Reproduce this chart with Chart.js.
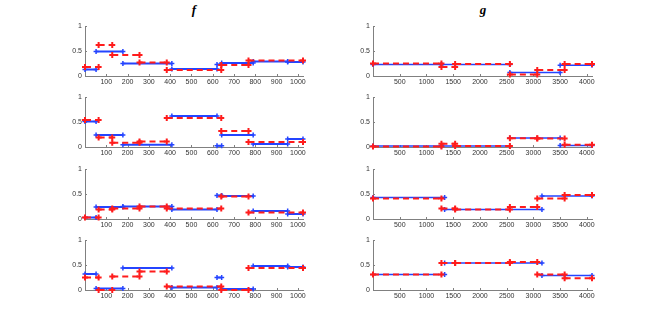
<!DOCTYPE html>
<html>
<head>
<meta charset="utf-8">
<script src="https://cdn.jsdelivr.net/npm/chart.js@4.4.0/dist/chart.umd.min.js"></script>
<style>
    body { margin: 0; width: 654px; height: 327px; background: #fff; position: relative; overflow: hidden; }
    canvas { position: absolute; }
    .ttl { position: absolute; top: 2px; width: 40px; text-align: center; font: italic bold 13px "Liberation Serif", serif; color: #000; }
</style>
</head>
<body>
<div class="ttl" style="left:174px">f</div>
<div class="ttl" style="left:463px">g</div>
<script>
// Tick labels
const fTicks = [100, 200, 300, 400, 500, 600, 700, 800, 900, 1000];
const gTicks = [500, 1000, 1500, 2000, 2500, 3000, 3500, 4000];
const yTicks = [0, 0.5, 1];

// Segment breakpoints (sample index)
const fBlueBreaks = [0, 52, 178, 408, 620, 642, 790, 952, 1024];
const fRedBreaks = [0, 64, 128, 256, 384, 640, 768, 1024];
const gBlueBreaksTop = [0, 1280, 2560, 3500, 4096];
const gBlueBreaksBottom = [0, 1340, 3160, 4096];
const gRedBreaks = [0, 1280, 1536, 2560, 3072, 3584, 4096];

// Segment levels, one array per panel
const fBlue1 = [0.13, 0.49, 0.25, 0.14, 0.23, 0.26, 0.29, 0.28];
const fRed1 = [0.18, 0.62, 0.42, 0.27, 0.12, 0.22, 0.31];
const fBlue2 = [0.51, 0.24, 0.045, 0.62, 0.025, 0.24, 0.06, 0.16];
const fRed2 = [0.54, 0.19, 0.085, 0.11, 0.58, 0.32, 0.10];
const fBlue3 = [0.03, 0.24, 0.25, 0.19, 0.47, 0.46, 0.16, 0.10];
const fRed3 = [0.03, 0.19, 0.21, 0.25, 0.21, 0.45, 0.13];
const fBlue4 = [0.32, 0.03, 0.44, 0.05, 0.25, 0.02, 0.48, 0.46];
const fRed4 = [0.25, 0.0, 0.27, 0.37, 0.07, 0.0, 0.44];

const gBlue1 = [0.23, 0.23, 0.07, 0.215];
const gRed1 = [0.25, 0.18, 0.24, 0.03, 0.12, 0.24];
const gBlue2 = [0.02, 0.02, 0.18, 0.03];
const gRed2 = [0.01, 0.065, 0.02, 0.175, 0.17, 0.045];
const gBlue3 = [0.43, 0.19, 0.46];
const gRed3 = [0.41, 0.21, 0.19, 0.24, 0.41, 0.48];
const gBlue4 = [0.31, 0.54, 0.29];
const gRed4 = [0.31, 0.54, 0.54, 0.56, 0.31, 0.235];

const blue = '#2444ff';
const red = '#ff1c1c';
const axisColor = '#808080';

Chart.defaults.font.family = '"Liberation Sans", Arial, sans-serif';
Chart.defaults.font.size = 7;
Chart.defaults.color = '#333';

// layout of the axes boxes
const colLeft = [85, 373];
const colWidth = [218, 219];
const rowTop = [25, 96, 168, 239];
const plotH = 51;
const yAxisW = 30, xAxisH = 14, padTop = 6, padRight = 12;

const panels = [
    { col: 0, row: 0, xmax: 1024, ticks: fTicks, bb: fBlueBreaks, bv: fBlue1, rb: fRedBreaks, rv: fRed1 },
    { col: 0, row: 1, xmax: 1024, ticks: fTicks, bb: fBlueBreaks, bv: fBlue2, rb: fRedBreaks, rv: fRed2 },
    { col: 0, row: 2, xmax: 1024, ticks: fTicks, bb: fBlueBreaks, bv: fBlue3, rb: fRedBreaks, rv: fRed3 },
    { col: 0, row: 3, xmax: 1024, ticks: fTicks, bb: fBlueBreaks, bv: fBlue4, rb: fRedBreaks, rv: fRed4 },
    { col: 1, row: 0, xmax: 4096, ticks: gTicks, bb: gBlueBreaksTop, bv: gBlue1, rb: gRedBreaks, rv: gRed1 },
    { col: 1, row: 1, xmax: 4096, ticks: gTicks, bb: gBlueBreaksTop, bv: gBlue2, rb: gRedBreaks, rv: gRed2 },
    { col: 1, row: 2, xmax: 4096, ticks: gTicks, bb: gBlueBreaksBottom, bv: gBlue3, rb: gRedBreaks, rv: gRed3 },
    { col: 1, row: 3, xmax: 4096, ticks: gTicks, bb: gBlueBreaksBottom, bv: gBlue4, rb: gRedBreaks, rv: gRed4 }
];

// turn breakpoints + levels into separate flat segments
function segments(breaks, vals) {
    const pts = [];
    vals.forEach((v, i) => {
        pts.push({ x: breaks[i], y: v });
        pts.push({ x: breaks[i + 1], y: v });
        pts.push({ x: breaks[i + 1], y: null });
    });
    return pts;
}

// small inward tick marks, matlab style
const inwardTicks = {
    id: 'inwardTicks',
    beforeDatasetsDraw(chart) {
        const { ctx, chartArea: a, scales: { x, y } } = chart;
        ctx.save();
        ctx.strokeStyle = axisColor;
        ctx.lineWidth = 1;
        ctx.beginPath();
        x.ticks.forEach(t => {
            const px = Math.round(x.getPixelForValue(t.value)) + 0.5;
            ctx.moveTo(px, a.bottom);
            ctx.lineTo(px, a.bottom - 2);
        });
        y.ticks.forEach(t => {
            const py = Math.round(y.getPixelForValue(t.value)) + 0.5;
            ctx.moveTo(a.left, py);
            ctx.lineTo(a.left + 2, py);
        });
        ctx.stroke();
        ctx.restore();
    }
};

panels.forEach(p => {
    const canvas = document.createElement('canvas');
    const w = colWidth[p.col] + yAxisW + padRight;
    const h = plotH + padTop + xAxisH;
    canvas.width = w;
    canvas.height = h;
    canvas.style.left = (colLeft[p.col] - yAxisW) + 'px';
    canvas.style.top = (rowTop[p.row] - padTop) + 'px';
    canvas.style.width = w + 'px';
    canvas.style.height = h + 'px';
    document.body.appendChild(canvas);

    const blueW = p.col === 0 ? 2 : 1.5;

    new Chart(canvas.getContext('2d'), {
        type: 'line',
        data: {
            datasets: [
                {
                    data: segments(p.rb, p.rv),
                    borderColor: red,
                    borderWidth: 2,
                    borderDash: [6, 4],
                    pointStyle: 'cross',
                    pointRadius: 3,
                    pointBorderWidth: 2,
                    pointBorderColor: red,
                    spanGaps: false,
                    clip: false
                },
                {
                    data: segments(p.bb, p.bv),
                    borderColor: blue,
                    borderWidth: blueW,
                    pointStyle: 'cross',
                    pointRadius: 2.5,
                    pointBorderWidth: 1.5,
                    pointBorderColor: blue,
                    spanGaps: false,
                    clip: false
                }
            ]
        },
        options: {
            responsive: false,
            animation: false,
            events: [],
            layout: {
                autoPadding: false,
                padding: { left: 0, top: padTop, right: padRight, bottom: 0 }
            },
            plugins: {
                legend: { display: false },
                tooltip: { enabled: false }
            },
            scales: {
                x: {
                    type: 'linear',
                    min: 0,
                    max: p.xmax,
                    afterBuildTicks: s => { s.ticks = p.ticks.map(v => ({ value: v })); },
                    afterFit: s => { s.height = xAxisH; },
                    grid: { display: false, drawTicks: false },
                    border: { display: true, color: axisColor, width: 1 },
                    ticks: { autoSkip: false, maxRotation: 0, padding: 2, callback: v => String(v) }
                },
                y: {
                    type: 'linear',
                    min: 0,
                    max: 1,
                    afterBuildTicks: s => { s.ticks = yTicks.map(v => ({ value: v })); },
                    afterFit: s => { s.width = yAxisW; },
                    grid: { display: false, drawTicks: false },
                    border: { display: true, color: axisColor, width: 1 },
                    ticks: { padding: 3, callback: v => String(v) }
                }
            }
        },
        plugins: [inwardTicks]
    });
});
</script>
</body>
</html>
